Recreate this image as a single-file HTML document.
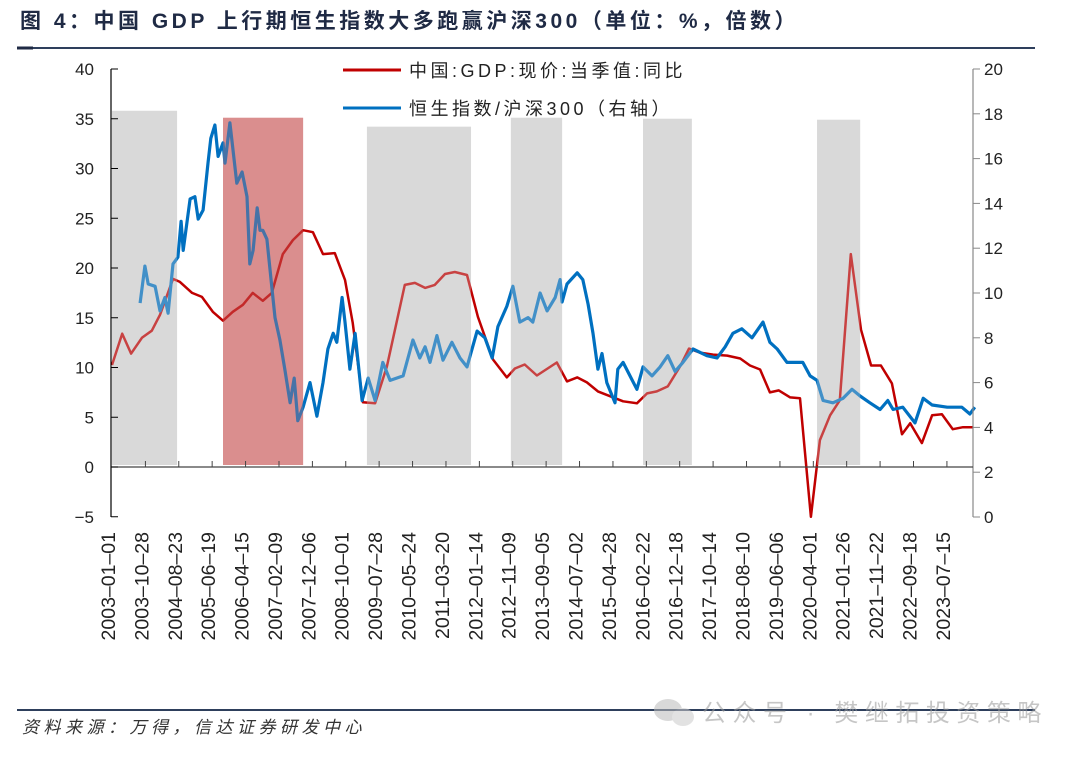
<!DOCTYPE html>
<html><head><meta charset="utf-8"><style>
body{margin:0;background:#fff;}
svg text{font-family:"Liberation Sans","Noto Sans CJK SC",sans-serif;}
</style></head><body>
<svg id="chart" width="1080" height="755" viewBox="0 0 1080 755" xmlns="http://www.w3.org/2000/svg">
<text x="20" y="28" font-size="21" font-weight="bold" letter-spacing="3.5" fill="#1f2a44">图 4：中国 GDP 上行期恒生指数大多跑赢沪深300（单位：%，倍数）</text>
<line x1="17" y1="48" x2="1035" y2="48" stroke="#2e3f5c" stroke-width="2"/>
<rect x="17" y="46.5" width="16" height="3" fill="#1f2a44"/>
<g id="plot"></g>
<line x1="17" y1="710" x2="1035" y2="710" stroke="#2e3f5c" stroke-width="2"/>
<text x="22" y="733" font-size="17" font-style="italic" letter-spacing="4.5" fill="#333">资料来源：万得，信达证券研发中心</text>
<g opacity="0.55">
<ellipse cx="668" cy="710" rx="14" ry="11" fill="#bbb"/>
<ellipse cx="683" cy="717" rx="11" ry="9" fill="#ccc"/>
<text x="702" y="721" font-size="24" letter-spacing="6.5" fill="#999">公众号 · 樊继拓投资策略</text>
</g>
</svg>
<script>
const gdpDates=[2003.0,2003.25,2003.47,2003.74,2003.98,2004.18,2004.50,2004.67,2004.97,2005.21,2005.48,2005.73,2005.97,2006.22,2006.46,2006.71,2006.93,2007.20,2007.45,2007.70,2007.94,2008.19,2008.48,2008.73,2008.92,2009.17,2009.47,2009.76,2010.20,2010.45,2010.70,2010.94,2011.19,2011.43,2011.73,2012.00,2012.37,2012.71,2012.91,2013.15,2013.45,2013.94,2014.19,2014.44,2014.68,2014.95,2015.20,2015.57,2015.91,2016.16,2016.40,2016.67,2016.97,2017.19,2017.46,2017.78,2018.13,2018.45,2018.69,2018.94,2019.18,2019.40,2019.68,2019.92,2020.19,2020.41,2020.66,2020.90,2021.17,2021.42,2021.67,2021.91,2022.18,2022.43,2022.63,2022.92,2023.17,2023.41,2023.68,2023.93,2024.17];
const gdpValues=[10.25,13.4,11.4,13.0,13.7,15.3,18.9,18.6,17.5,17.1,15.6,14.7,15.6,16.3,17.5,16.7,17.5,21.4,22.8,23.8,23.6,21.4,21.5,18.8,14.5,6.5,6.4,10.1,18.3,18.5,18.0,18.3,19.4,19.6,19.3,15.1,10.8,9.0,9.9,10.3,9.2,10.5,8.6,9.0,8.5,7.6,7.2,6.6,6.4,7.4,7.6,8.1,10.1,11.9,11.5,11.3,11.2,10.9,10.2,9.8,7.5,7.7,7.0,6.9,-5.0,2.7,5.2,6.7,21.4,13.8,10.2,10.2,8.4,3.3,4.4,2.4,5.2,5.3,3.8,4.0,4.0];
const hsDates=[2003.69,2003.81,2003.89,2004.06,2004.18,2004.30,2004.38,2004.50,2004.62,2004.70,2004.75,2004.92,2005.04,2005.12,2005.24,2005.36,2005.43,2005.53,2005.61,2005.73,2005.78,2005.90,2006.07,2006.20,2006.32,2006.39,2006.47,2006.57,2006.64,2006.71,2006.81,2006.94,2007.01,2007.13,2007.25,2007.38,2007.48,2007.57,2007.70,2007.87,2008.04,2008.19,2008.31,2008.44,2008.53,2008.66,2008.73,2008.85,2008.98,2009.15,2009.30,2009.47,2009.66,2009.84,2010.16,2010.40,2010.57,2010.70,2010.82,2010.99,2011.14,2011.36,2011.56,2011.73,2011.98,2012.17,2012.35,2012.49,2012.71,2012.86,2013.03,2013.23,2013.35,2013.53,2013.70,2013.90,2014.02,2014.07,2014.19,2014.44,2014.58,2014.71,2014.83,2014.95,2015.05,2015.17,2015.37,2015.44,2015.57,2015.74,2015.91,2016.06,2016.28,2016.48,2016.67,2016.85,2017.04,2017.29,2017.63,2017.88,2018.08,2018.27,2018.49,2018.74,2019.01,2019.18,2019.36,2019.60,2019.99,2020.17,2020.34,2020.49,2020.73,2020.98,2021.20,2021.40,2021.64,2021.89,2022.08,2022.21,2022.45,2022.75,2022.95,2023.17,2023.54,2023.90,2024.10,2024.22];
const hsValues=[9.55,11.2,10.4,10.3,9.2,9.8,9.1,11.3,11.6,13.2,11.9,14.2,14.3,13.3,13.7,15.8,16.9,17.5,16.1,16.7,15.8,17.6,14.9,15.4,14.3,11.3,11.9,13.8,12.8,12.8,12.4,10.1,8.9,7.9,6.6,5.1,6.2,4.3,4.9,6.0,4.5,6.0,7.5,8.2,7.8,9.8,8.7,6.6,8.2,5.2,6.2,5.2,6.9,6.1,6.3,7.9,7.1,7.6,6.9,8.1,7.0,7.8,7.1,6.7,8.3,8.0,7.1,8.5,9.4,10.3,8.7,8.9,8.7,10.0,9.2,9.8,10.6,9.6,10.4,10.9,10.6,9.5,8.2,6.6,7.3,6.0,5.1,6.6,6.9,6.3,5.7,6.7,6.3,6.7,7.2,6.5,6.9,7.5,7.2,7.1,7.6,8.2,8.4,8.0,8.7,7.8,7.5,6.9,6.9,6.3,6.1,5.2,5.1,5.3,5.7,5.4,5.1,4.8,5.2,4.8,4.9,4.2,5.3,5.0,4.9,4.9,4.6,4.9];
const tickLabels=["2003-01-01","2003-10-28","2004-08-23","2005-06-19","2006-04-15","2007-02-09","2007-12-06","2008-10-01","2009-07-28","2010-05-24","2011-03-20","2012-01-14","2012-11-09","2013-09-05","2014-07-02","2015-04-28","2016-02-22","2016-12-18","2017-10-14","2018-08-10","2019-06-06","2020-04-01","2021-01-26","2021-11-22","2022-09-18","2023-07-15"];
const leftTicks=[40,35,30,25,20,15,10,5,0,-5];
const rightTicks=[20,18,16,14,12,10,8,6,4,2,0];
const bandStarts=[2003.0,2005.73,2009.27,2012.81,2016.06,2020.34];
const bandEnds=[2004.6,2007.70,2011.83,2014.07,2017.26,2021.40];
const bandTops=[35.8,35.1,34.2,35.1,35.0,34.9];
const bandKinds=["gray","red","gray","gray","gray","gray"];

const NS="http://www.w3.org/2000/svg";
const X0=112,PXY=40.66;
const xs=t=>X0+(t-2003)*PXY;
const yL=v=>467-v*9.95;
const yR=v=>517-v*22.4;
const g=document.getElementById('plot');
function mk(tag,attrs){const e=document.createElementNS(NS,tag);for(const k in attrs)e.setAttribute(k,attrs[k]);g.appendChild(e);return e;}
function dateToYear(s){const d=new Date(s+"T00:00:00Z");const y=d.getUTCFullYear();const st=Date.UTC(y,0,1),en=Date.UTC(y+1,0,1);return y+(d-st)/(en-st);}
function pathOf(ds,vs,yf){return ds.map((d,i)=>(i?'L':'M')+xs(d).toFixed(1)+','+yf(vs[i]).toFixed(1)).join('');}

bandStarts.forEach((s,i)=>{
  const r=mk('rect',{x:xs(s),y:yL(bandTops[i]),width:xs(bandEnds[i])-xs(s),height:yL(0.2)-yL(bandTops[i]),fill:bandKinds[i]=='red'?'#e49a9a':'#d9d9d9'});
  
  
});

const red=mk('path',{d:pathOf(gdpDates,gdpValues,yL),fill:'none',stroke:'#c00000','stroke-width':2.5,'stroke-linejoin':'round'});


const blue=mk('path',{d:pathOf(hsDates,hsValues,yR),fill:'none',stroke:'#0070c0','stroke-width':3.2,'stroke-linejoin':'round'});



bandStarts.forEach((s,i)=>{
  const r=mk('rect',{x:xs(s),y:yL(bandTops[i]),width:xs(bandEnds[i])-xs(s),height:yL(0.2)-yL(bandTops[i]),fill:bandKinds[i]=='red'?'#c87878':'#d9d9d9',opacity:bandKinds[i]=='red'?0.35:0.3});
  
  
});

const ax=mk('line',{x1:111,y1:69,x2:111,y2:517,stroke:'#000','stroke-width':1.2});


const axr=mk('line',{x1:973,y1:69,x2:973,y2:517,stroke:'#888','stroke-width':1.2});


const xa=mk('line',{x1:111,y1:yL(0),x2:973,y2:yL(0),stroke:'#444','stroke-width':1.2});


leftTicks.forEach(v=>{
  const t=mk('line',{x1:111,y1:yL(v),x2:118,y2:yL(v),stroke:'#000'});
  
  
  const l=mk('text',{x:94,y:yL(v)+6,'font-size':17,'text-anchor':'end',fill:'#222'});
  l.textContent=v<0?'\u2212'+(-v):v;
  
  
});
rightTicks.forEach(v=>{
  const t=mk('line',{x1:973,y1:yR(v),x2:980,y2:yR(v),stroke:'#888'});
  
  
  const l=mk('text',{x:984,y:yR(v)+6,'font-size':17,fill:'#222'});
  l.textContent=v;
  
  
});
tickLabels.forEach((s,i)=>{
  const x=xs(dateToYear(s));
  if(i>0){const t=mk('line',{x1:x,y1:yL(0)-6,x2:x,y2:yL(0),stroke:'#444'});
  
  }
  const l=mk('text',{x:0,y:0,'font-size':19.5,'text-anchor':'end',fill:'#222',transform:`translate(${(x+3).toFixed(1)},532) rotate(-90)`});
  l.textContent=s.replace(/-/g,'\u2013');
  
  
});

const lg1=mk('line',{x1:343,y1:70,x2:401,y2:70,stroke:'#c00000','stroke-width':3});


const lt1=mk('text',{x:409,y:77,'font-size':18,'letter-spacing':3.5,fill:'#222'});
lt1.textContent='中国:GDP:现价:当季值:同比';


const lg2=mk('line',{x1:343,y1:108,x2:401,y2:108,stroke:'#0070c0','stroke-width':3});


const lt2=mk('text',{x:409,y:115,'font-size':18,'letter-spacing':3.5,fill:'#222'});
lt2.textContent='恒生指数/沪深300（右轴）';


</script>
</body></html>
